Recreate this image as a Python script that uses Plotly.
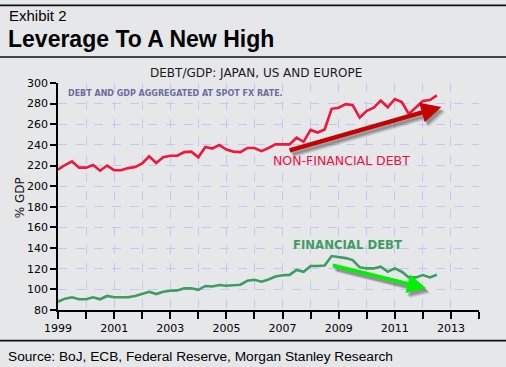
import plotly.graph_objects as go

# ---- data (quarterly, 1999Q1 .. 2012Q3) ----
start_year = 1999
non_financial = [216, 220.5, 224, 218, 218, 220.5, 215, 220, 215.5, 215.5, 217.5, 218.5,
                 222, 229, 222.5, 228, 229.5, 229.5, 233, 233.5, 228, 238, 236.5, 240,
                 235.5, 233.5, 233, 237, 237, 234, 237, 240.5, 240.5, 240.5, 247, 243,
                 254.5, 252, 255, 275, 276, 279.5, 278.5, 266.5, 273, 276, 283, 276.5,
                 284.5, 281.5, 270, 276.5, 282.5, 283.5, 288]
financial = [88, 91, 92.3, 90.4, 90.4, 92.3, 90.4, 93.6, 92.3, 92.3, 92.3, 93.6,
             96, 97.7, 95.5, 97.7, 98.7, 99, 101, 101, 99.5, 103.3, 102.8, 104.2,
             103.5, 104, 104.5, 108.4, 109.3, 107.4, 109.5, 112.5, 113.7, 114, 118.8, 117,
             122.7, 122.7, 123.2, 132.3, 131.6, 130.3, 128.4, 121.3, 120.3, 120.3, 121.9, 117.1,
             120.3, 117.1, 111.6, 111.6, 113.9, 111.6, 114.2]
x_dates = [start_year + i * 0.25 for i in range(len(non_financial))]

year_ticks = list(range(1999, 2015))
year_labels = [str(y) if y % 2 == 1 else "" for y in year_ticks]
y_ticks = list(range(80, 301, 20))

# trend arrows (tail -> head) in data units
red_arrow = dict(tail=(2007.2, 234.2), head=(2012.66, 276.8))
green_arrow = dict(tail=(2008.74, 123.6), head=(2012.12, 101.0))

W, H = 506, 367
L, R, T, B = 58, 479, 82.7, 310
BG = "#E6E7E9"

def px(x):
    return (x - L) / (R - L)

def py(y):
    return (B - y) / (B - T)

fig = go.Figure()
fig.add_trace(go.Scatter(x=x_dates, y=non_financial, mode="lines",
                         line=dict(color="#F0163C", width=2.6), name="Non-financial"))
fig.add_trace(go.Scatter(x=x_dates, y=financial, mode="lines",
                         line=dict(color="#3E9B62", width=2.6), name="Financial"))

annotations = []
def add_arrow(a, color, width, size):
    (tx, ty), (hx, hy) = a["tail"], a["head"]
    for dx, dy, op in ((4, -5, 0.12), (3, -4, 0.18), (2, -3, 0.22)):
        annotations.append(dict(x=hx, y=hy, ax=tx, ay=ty, xref="x", yref="y", axref="x", ayref="y",
                                text="", showarrow=True, arrowhead=2, arrowsize=size, arrowwidth=width,
                                arrowcolor=f"rgba(40,40,40,{op})", xshift=dx, yshift=dy))
    annotations.append(dict(x=hx, y=hy, ax=tx, ay=ty, xref="x", yref="y", axref="x", ayref="y",
                            text="", showarrow=True, arrowhead=2, arrowsize=size, arrowwidth=width,
                            arrowcolor=color))

add_arrow(red_arrow, "#C40000", 4.5, 0.9)
add_arrow(green_arrow, "#00F000", 3.8, 1.0)

verd = "DejaVu Sans"
arial = "Liberation Sans"
annotations += [
    dict(x=px(256), y=py(72.3), xref="paper", yref="paper", text="DEBT/GDP: JAPAN, US AND EUROPE",
         showarrow=False, font=dict(family=verd, size=12, color="#1A1A1A"), xanchor="center", yanchor="middle"),
    dict(x=px(66), y=py(93.3), xref="paper", yref="paper", text="<b>DEBT AND GDP AGGREGATED AT SPOT FX RATE.</b>",
         showarrow=False, font=dict(family=verd, size=8, color="#6C6C9E"), xanchor="left", yanchor="middle"),
    dict(x=px(271), y=py(160), xref="paper", yref="paper", text="NON-FINANCIAL DEBT",
         showarrow=False, font=dict(family=verd, size=12.5, color="#EE1040"), xanchor="left", yanchor="middle"),
    dict(x=px(291), y=py(245), xref="paper", yref="paper", text="<b>FINANCIAL DEBT</b>",
         showarrow=False, font=dict(family=verd, size=11.7, color="#3E9B62"), xanchor="left", yanchor="middle"),
    dict(x=px(20), y=py(198), xref="paper", yref="paper", text="% GDP", textangle=-90,
         showarrow=False, font=dict(family=verd, size=12, color="#111"), xanchor="center", yanchor="middle"),
    dict(x=px(7), y=py(15), xref="paper", yref="paper", text="Exhibit 2",
         showarrow=False, font=dict(family=arial, size=15, color="#000"), xanchor="left", yanchor="middle"),
    dict(x=px(6), y=py(39), xref="paper", yref="paper", text="<b>Leverage To A New High</b>",
         showarrow=False, font=dict(family=arial, size=23, color="#000"), xanchor="left", yanchor="middle"),
    dict(x=px(6), y=py(357), xref="paper", yref="paper",
         text="Source: BoJ, ECB, Federal Reserve, Morgan Stanley Research",
         showarrow=False, font=dict(family=arial, size=13.7, color="#000"), xanchor="left", yanchor="middle"),
]

shapes = []
for yy in (5, 56.7, 340.7):
    shapes.append(dict(type="line", xref="paper", yref="paper", x0=px(0), x1=px(W), y0=py(yy), y1=py(yy),
                       line=dict(color="#111", width=1.6)))

grid = "#C6C6F4"
fig.update_layout(
    width=W, height=H, autosize=False,
    margin=dict(l=L, r=W - R, t=T, b=H - B, pad=0),
    paper_bgcolor=BG, plot_bgcolor=BG,
    showlegend=False,
    annotations=annotations, shapes=shapes,
    xaxis=dict(range=[1999, 2014], tickvals=year_ticks, ticktext=year_labels,
               showgrid=True, gridcolor=grid, griddash="dash", gridwidth=1,
               showline=True, linecolor="#000", linewidth=1.5,
               ticks="outside", ticklen=7, tickwidth=1.5, tickcolor="#000",
               tickfont=dict(family=verd, size=11, color="#000"), zeroline=False, fixedrange=True),
    yaxis=dict(range=[80, 300], tickvals=y_ticks,
               showgrid=True, gridcolor=grid, griddash="dash", gridwidth=1,
               showline=True, linecolor="#000", linewidth=1.5,
               ticks="outside", ticklen=6, tickwidth=1.5, tickcolor="#000",
               tickfont=dict(family=verd, size=11, color="#000"), zeroline=False, fixedrange=True),
)
fig.write_html("out.html", config={"displayModeBar": False},
               post_script="document.body.style.margin='0';document.body.style.overflow='hidden';")
